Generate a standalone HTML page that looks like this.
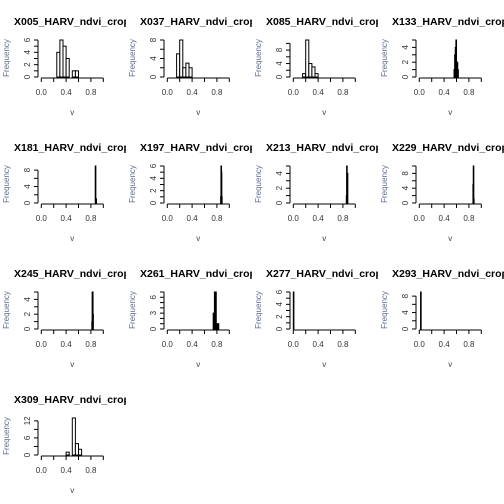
<!DOCTYPE html>
<html><head><meta charset="utf-8"><style>
body{margin:0;background:#fff}
svg{display:block;font-family:"Liberation Sans",sans-serif}
</style></head><body>
<svg id="c" width="504" height="504"></svg>
<script>
const titles=["X005","X037","X085","X133","X181","X197","X213","X229","X245","X261","X277","X293","X309"];
const binStarts=[[0.25,0.30,0.35,0.40,0.45,0.50,0.55],[0.15,0.20,0.25,0.30,0.35],[0.15,0.20,0.25,0.30,0.35],[0.56,0.57,0.58,0.59,0.60,0.61,0.62],[0.87,0.88],[0.86,0.865,0.87,0.875],[0.855,0.86,0.865,0.87],[0.865,0.87,0.875],[0.815,0.82,0.825,0.83],[0.74,0.75,0.76,0.78,0.80,0.82],[0.0],[0.02],[0.40,0.45,0.50,0.55,0.60]];
const binWidths=[0.05,0.05,0.05,0.01,0.01,0.005,0.005,0.005,0.005,0.01,0.005,0.01,0.05];
const counts=[[4,6,5,3,0,1,1],[5,8,2,3,2],[1,11,4,3,1],[1,3,4,5,2,2,1],[9,1],[1,6,5,1],[1,5,4,4],[5,10,1],[1,5,5,2],[3,3,7,7,1,1],[6],[9],[1,0,13,4,2]];
const yMax=[6,8,11,5,9,6,5,10,5,7,6,9,13];
const yTicks=[[0,1,2,3,4,5,6],[0,2,4,6,8],[0,2,4,6,8,10],[0,1,2,3,4,5],[0,2,4,6,8],[0,1,2,3,4,5,6],[0,1,2,3,4,5],[0,2,4,6,8,10],[0,1,2,3,4,5],[0,1,2,3,4,5,6,7],[0,1,2,3,4,5,6],[0,2,4,6,8],[0,3,6,9,12]];
const yLabels=[[0,2,4,6],[0,4,8],[0,4,8],[0,2,4],[0,4,8],[0,2,4,6],[0,2,4],[0,4,8],[0,2,4],[0,3,6],[0,2,4,6],[0,4,8],[0,6,12]];
const xTicks=[0,0.2,0.4,0.6,0.8,1.0];
const xLabels=["0.0","0.4","0.8"];
const NS="http://www.w3.org/2000/svg";
const svg=document.getElementById('c');
function mk(tag,attrs,parent){const e=document.createElementNS(NS,tag);for(const k in attrs)e.setAttribute(k,attrs[k]);parent.appendChild(e);return e;}
titles.forEach((t,i)=>{
  const ox=(i%4)*126, oy=Math.floor(i/4)*126;
  const g=mk('g',{transform:`translate(${ox},${oy})`},svg);
  
  
  const X=v=>41.3+62*v, Y=c=>77-c*37/yMax[i];
  const cp=mk('clipPath',{id:'cp'+i},g);mk('rect',{x:0,y:0,width:126,height:126},cp);
  const tt=mk('text',{x:14,y:25,'font-size':'10.5','font-weight':'bold',fill:'#000','clip-path':`url(#cp${i})`},g);
  tt.textContent=t+"_HARV_ndvi_crop";
  
  
  const fl=mk('text',{x:0,y:0,'font-size':'8',fill:'#5a6a90','text-anchor':'middle',transform:'translate(9,58) rotate(-90)'},g);
  fl.textContent="Frequency";
  
  
  const xl=mk('text',{x:X(0.5),y:115,'font-size':'8',fill:'#444','text-anchor':'middle'},g);
  xl.textContent="v";
  
  
  binStarts[i].forEach((b,j)=>{
    if(!counts[i][j])return;
    const r=mk('rect',{x:X(b),y:Y(counts[i][j]),width:Math.max(62*binWidths[i],0.6),height:77-Y(counts[i][j]),fill:binWidths[i]<0.02?'#000':'#fff',stroke:'#000','stroke-width':1},g);
    
    
  });
  const yt=yTicks[i];
  mk('line',{x1:38,x2:38,y1:Y(0),y2:Y(yt[yt.length-1]),stroke:'#000','stroke-width':1},g);
  yt.forEach(v=>mk('line',{x1:34,x2:38,y1:Y(v),y2:Y(v),stroke:'#000'},g));
  yLabels[i].forEach(v=>{const l=mk('text',{x:0,y:0,'font-size':'8',fill:'#333','text-anchor':'middle',transform:`translate(30,${Y(v)}) rotate(-90)`},g);l.textContent=v;
    
    });
  mk('line',{x1:X(0),x2:X(1),y1:78,y2:78,stroke:'#000','stroke-width':1},g);
  xTicks.forEach(v=>mk('line',{x1:X(v),x2:X(v),y1:78,y2:82,stroke:'#000'},g));
  xLabels.forEach(s=>{const l=mk('text',{x:X(parseFloat(s)),y:95,'font-size':'8',fill:'#333','text-anchor':'middle'},g);l.textContent=s;
    
    });
});
</script>
</body></html>
